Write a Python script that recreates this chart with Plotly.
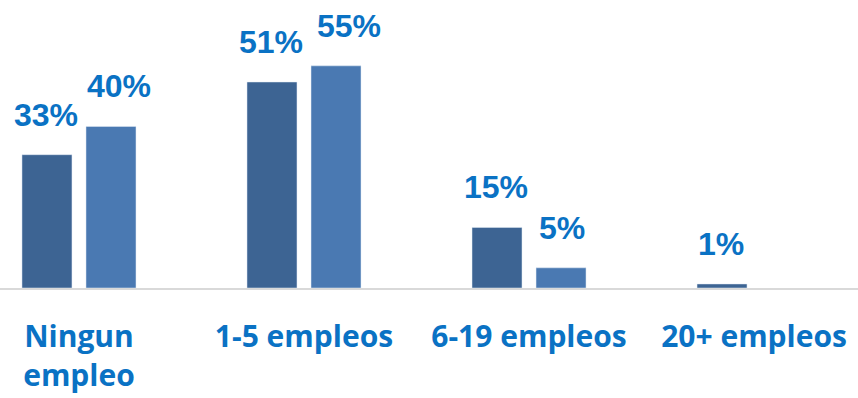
import plotly.graph_objects as go

categories = ["Ningun<br>empleo", "1-5 empleos", "6-19 empleos", "20+ empleos"]
serie_a = [33, 51, 15, 1]
serie_b = [40, 55, 5, None]
labels_a = ["33%", "51%", "15%", "1%"]
labels_b = ["40%", "55%", "5%", ""]

dark = "#3d6493"
light = "#4a79b2"
txt = "#0a72c4"

fig = go.Figure()
fig.add_trace(go.Bar(x=categories, y=serie_a, marker_color=dark, name="A", hoverinfo="skip"))
fig.add_trace(go.Bar(x=categories, y=serie_b, marker_color=light, name="B", hoverinfo="skip"))

lab_font = dict(size=32, color=txt, family="Liberation Sans", weight="bold")
shift_b = [40, 45, 33, 33]
annos = []
for cat, va, la, vb, lb, sb in zip(categories, serie_a, labels_a, serie_b, labels_b, shift_b):
    if va is not None and la:
        annos.append(dict(x=cat, y=va, text=la, showarrow=False, xshift=-33, yshift=40,
                          yanchor="middle", font=lab_font))
    if vb is not None and lb:
        annos.append(dict(x=cat, y=vb, text=lb, showarrow=False, xshift=sb, yshift=40,
                          yanchor="middle", font=lab_font))

fig.update_layout(
    width=858, height=398,
    margin=dict(l=0, r=0, t=0, b=110),
    paper_bgcolor="white", plot_bgcolor="white",
    barmode="group", bargap=0.431, bargroupgap=0.219,
    showlegend=False,
    annotations=annos,
    font=dict(family="Liberation Sans"),
)
fig.update_xaxes(range=[-0.351, 3.462], showline=True, linecolor="#d9d9d9", linewidth=2,
                 ticks="outside", ticklen=21, tickcolor="rgba(0,0,0,0)",
                 tickfont=dict(size=30, color=txt, family="Open Sans", weight="bold"),
                 showgrid=False, automargin=False, fixedrange=True)
fig.update_yaxes(range=[0, 71.3], visible=False, showgrid=False, zeroline=False, fixedrange=True)

fig.write_html("out.html", config={"displayModeBar": False},
               post_script="document.body.style.margin='0';document.body.style.overflow='hidden';")
